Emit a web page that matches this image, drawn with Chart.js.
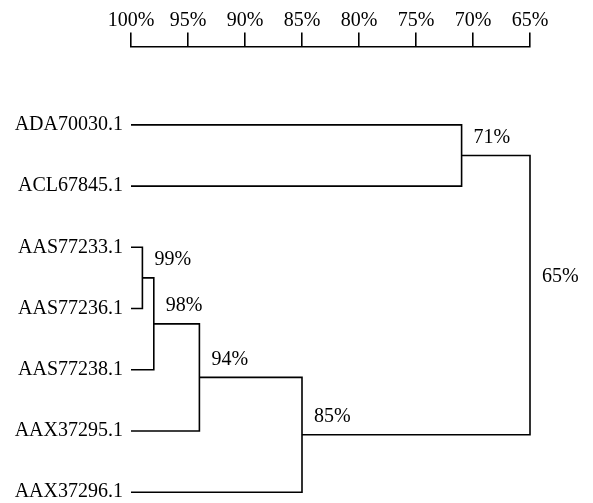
<!DOCTYPE html>
<html>
<head>
<meta charset="utf-8">
<script src="https://cdn.jsdelivr.net/npm/chart.js@4/dist/chart.umd.min.js"></script>
<style>
html,body{margin:0;padding:0;background:#fff;}
canvas{display:block;}
</style>
</head>
<body>
<canvas id="c" width="593" height="503"></canvas>
<script>
// Leaves (top to bottom)
const leafLabels = ['ADA70030.1','ACL67845.1','AAS77233.1','AAS77236.1','AAS77238.1','AAX37295.1','AAX37296.1'];
// Merge nodes: similarity and children (leaf name or node id)
const nodeIds = ['n0','n1','n2','n3','n4','n5'];
const nodeSimilarity = [99, 98, 94, 85, 71, 65];
const nodeChildA = ['AAS77233.1','n0','n1','n2','ADA70030.1','n4'];
const nodeChildB = ['AAS77236.1','AAS77238.1','AAX37295.1','AAX37296.1','ACL67845.1','n3'];
// Scale ticks
const tickValues = [100, 95, 90, 85, 80, 75, 70, 65];
const leafSimilarity = 100;

const FONT = {family: '"Liberation Serif", "Times New Roman", serif', size: 20};

// Build dendrogram geometry from the data
const pos = {};
leafLabels.forEach((l, i) => { pos[l] = {x: leafSimilarity, y: i}; });
const datasets = [];
const nodeLabelPts = [];
nodeIds.forEach((id, i) => {
  const a = pos[nodeChildA[i]], b = pos[nodeChildB[i]];
  const s = nodeSimilarity[i];
  pos[id] = {x: s, y: (a.y + b.y) / 2};
  nodeLabelPts.push({x: s, y: pos[id].y, text: s + '%'});
  datasets.push({
    data: [{x: a.x, y: a.y}, {x: s, y: a.y}, {x: s, y: b.y}, {x: b.x, y: b.y}],
    showLine: true, borderColor: '#000', borderWidth: 1.6, pointRadius: 0,
    tension: 0, fill: false, clip: false
  });
});

const nodeLabelPlugin = {
  id: 'nodeLabels',
  afterDatasetsDraw(chart) {
    const ctx = chart.ctx, xs = chart.scales.x, ys = chart.scales.y;
    ctx.save();
    ctx.fillStyle = '#000';
    ctx.font = FONT.size + 'px ' + FONT.family;
    ctx.textAlign = 'left';
    ctx.textBaseline = 'middle';
    nodeLabelPts.forEach(p => {
      ctx.fillText(p.text, xs.getPixelForValue(p.x) + 12, ys.getPixelForValue(p.y) - 18);
    });
    ctx.restore();
  }
};

new Chart(document.getElementById('c'), {
  type: 'scatter',
  data: {datasets},
  plugins: [nodeLabelPlugin],
  options: {
    responsive: false,
    animation: false,
    devicePixelRatio: 1,
    layout: {padding: {left: 0, right: 63, top: 0, bottom: 3}},
    plugins: {legend: {display: false}, tooltip: {enabled: false}},
    scales: {
      x: {
        type: 'linear', position: 'top', min: 65, max: 100, reverse: true,
        afterBuildTicks: s => { s.ticks = tickValues.map(v => ({value: v})); },
        afterFit: s => { s.height = 46.5; },
        ticks: {color: '#000', font: FONT, padding: 0, maxRotation: 0, autoSkip: false,
                callback: v => v + '%'},
        grid: {drawOnChartArea: false, drawTicks: true, tickLength: 14, color: '#000', lineWidth: 1.6},
        border: {display: true, color: '#000', width: 1.6}
      },
      y: {
        type: 'linear', min: -1.28, max: 6.013, reverse: true,
        afterBuildTicks: s => { s.ticks = leafLabels.map((_, i) => ({value: i})); },
        afterFit: s => { s.width = 131; },
        ticks: {color: '#000', font: Object.assign({}, FONT, {lineHeight: 0.2}), padding: 8, autoSkip: false,
                callback: v => leafLabels[v]},
        grid: {display: false, drawTicks: false},
        border: {display: false}
      }
    }
  }
});
</script>
</body>
</html>
